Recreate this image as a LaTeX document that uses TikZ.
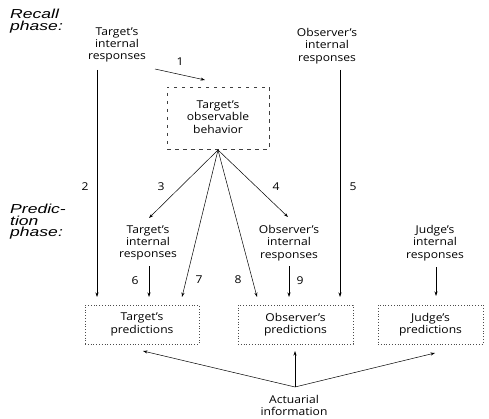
\documentclass[tikz,border=0pt]{standalone}
\usepackage{fontspec}
\setmainfont[FakeStretch=1.12]{Open Sans}
\newfontfamily\phasefont[FakeStretch=1.35]{Liberation Sans Italic}
\usetikzlibrary{arrows.meta}
\begin{document}
\begin{tikzpicture}[x=1pt,y=-1pt,
  txt/.style={align=center,inner sep=0pt,font=\fontsize{10.8}{12.3}\selectfont},
  num/.style={inner sep=0pt,font=\fontsize{10.8}{12}\selectfont},
  phase/.style={align=left,anchor=west,inner sep=0pt,font=\fontsize{13}{11.5}\phasefont},
  arr/.style={-{Stealth[length=4.5pt,width=3pt]},line width=0.5pt},
  obsbox/.style={draw=black!75,dash pattern=on 3.5pt off 4.5pt,line width=0.6pt,minimum width=102pt,minimum height=62pt,inner sep=0pt},
  predbox/.style={draw=black!70,dash pattern=on 0.8pt off 2pt,line width=0.6pt,minimum height=39pt,inner sep=0pt,align=center,font=\fontsize{10.8}{12.3}\selectfont}]
\useasboundingbox (0,0) rectangle (489,419);
% phase labels
\node[phase] (recall) at (10,21) {Recall\\phase:};
\node[phase] (pred) at (10,222) {Predic-\\tion\\phase:};
% text nodes
\node[txt] (tirT) at (117,45) {Target's\\internal\\responses};
\node[txt] (oirT) at (327,46) {Observer's\\internal\\responses};
\node[obsbox] (obs) at (218,118) {};
\node[txt] (obstext) at (218,117) {Target's\\observable\\behavior};
\node[txt] (tirP) at (148,243) {Target's\\internal\\responses};
\node[txt] (oirP) at (289,243) {Observer's\\internal\\responses};
\node[txt] (jir) at (435,243) {Judge's\\internal\\responses};
\node[predbox,minimum width=114pt] (tp) at (142,324.5) {Target's\\predictions};
\node[predbox,minimum width=115pt] (op) at (295.5,324.5) {Observer's\\predictions};
\node[predbox,minimum width=105pt] (jp) at (430.5,324.5) {Judge's\\predictions};
\node[txt] (act) at (294,405.5) {Actuarial\\information};
% coordinates
\coordinate (a1s) at (155,69);
\coordinate (a1e) at (205,80);
\coordinate (l2s) at (97,70);
\coordinate (l2e) at (97,297);
\coordinate (l5s) at (340,70);
\coordinate (l5e) at (340,297);
\coordinate (apex) at (218,150);
\coordinate (e3) at (149,218);
\coordinate (e4) at (288,217);
\coordinate (e7) at (182,297);
\coordinate (e8) at (257,297);
\coordinate (l6s) at (149,266);
\coordinate (l6e) at (149,297);
\coordinate (l9s) at (289,266);
\coordinate (l9e) at (289,297);
\coordinate (ljs) at (436,267);
\coordinate (lje) at (436,296);
\coordinate (aapex) at (295,387);
\coordinate (at) at (143,351);
\coordinate (ao) at (295,351);
\coordinate (aj) at (435,353);
% connectors
\draw[arr] (a1s) -- (a1e);
\draw[arr] (l2s) -- (l2e);
\draw[arr] (l5s) -- (l5e);
\draw[arr] (apex) -- (e3);
\draw[arr] (apex) -- (e4);
\draw[arr] (apex) -- (e7);
\draw[arr] (apex) -- (e8);
\draw[arr] (l6s) -- (l6e);
\draw[arr] (l9s) -- (l9e);
\draw[arr] (ljs) -- (lje);
\draw[arr] (aapex) -- (at);
\draw[arr] (aapex) -- (ao);
\draw[arr] (aapex) -- (aj);
% labels
\node[num] (n1) at (180,62) {1};
\node[num] (n2) at (85,187) {2};
\node[num] (n3) at (161,187) {3};
\node[num] (n4) at (276,187) {4};
\node[num] (n5) at (353,187) {5};
\node[num] (n6) at (135,281) {6};
\node[num] (n7) at (199,280) {7};
\node[num] (n8) at (238,280) {8};
\node[num] (n9) at (300,281) {9};
\end{tikzpicture}
\end{document}
